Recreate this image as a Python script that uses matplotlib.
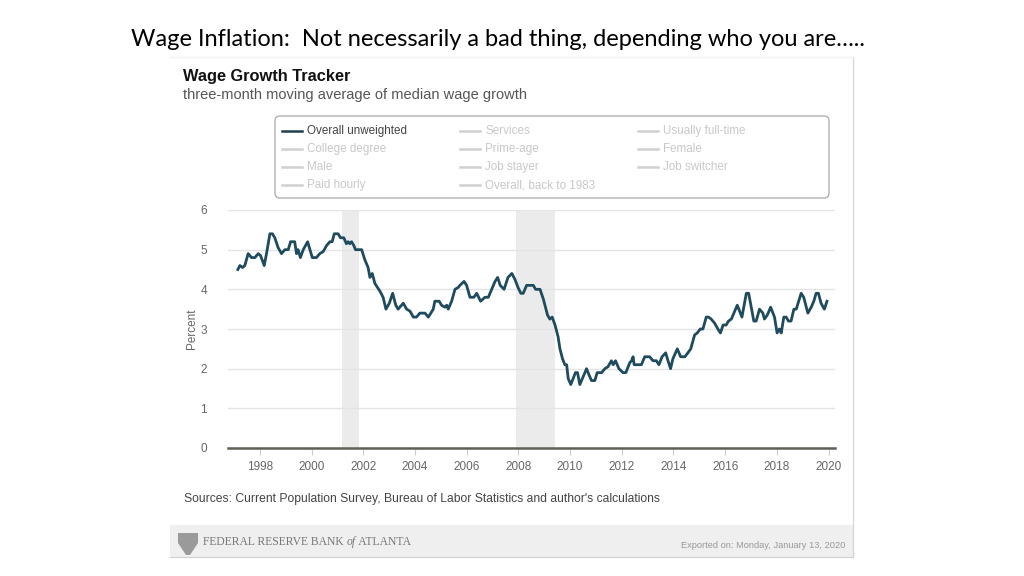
import matplotlib
matplotlib.use('Agg')
import matplotlib.pyplot as plt
from matplotlib.patches import Rectangle, FancyBboxPatch, Polygon

# three-month moving average of median wage growth (decimal year, percent)
dates = [1997.15, 1997.23, 1997.33, 1997.42, 1997.55, 1997.68, 1997.81, 1997.94, 1998.03, 1998.17,
         1998.26, 1998.39, 1998.49, 1998.58, 1998.71, 1998.84, 1998.97, 1999.10, 1999.19, 1999.35,
         1999.42, 1999.48, 1999.57, 1999.68, 1999.85, 2000.03, 2000.19, 2000.32, 2000.45, 2000.58,
         2000.71, 2000.80, 2000.88, 2001.03, 2001.12, 2001.25, 2001.35, 2001.42, 2001.48, 2001.55,
         2001.64, 2001.70, 2001.94, 2002.06, 2002.19, 2002.26, 2002.35, 2002.45, 2002.65, 2002.77,
         2002.88, 2003.01, 2003.14, 2003.26, 2003.35, 2003.55, 2003.68, 2003.81, 2003.94, 2004.06,
         2004.19, 2004.39, 2004.52, 2004.71, 2004.77, 2004.94, 2005.03, 2005.16, 2005.23, 2005.29,
         2005.42, 2005.55, 2005.68, 2005.74, 2005.90, 2006.00, 2006.13, 2006.28, 2006.39, 2006.54,
         2006.71, 2006.84, 2006.97, 2007.10, 2007.20, 2007.30, 2007.45, 2007.60, 2007.75, 2007.87,
         2008.00, 2008.10, 2008.19, 2008.32, 2008.58, 2008.67, 2008.84, 2008.97, 2009.13, 2009.22,
         2009.31, 2009.42, 2009.54, 2009.61, 2009.71, 2009.80, 2009.87, 2009.93, 2010.03, 2010.12,
         2010.21, 2010.29, 2010.38, 2010.51, 2010.64, 2010.73, 2010.83, 2010.96, 2011.05, 2011.22,
         2011.35, 2011.47, 2011.60, 2011.67, 2011.76, 2011.89, 2012.05, 2012.16, 2012.31, 2012.38,
         2012.44, 2012.48, 2012.76, 2012.89, 2013.08, 2013.21, 2013.34, 2013.44, 2013.56, 2013.70,
         2013.79, 2013.89, 2013.98, 2014.15, 2014.28, 2014.44, 2014.56, 2014.67, 2014.82, 2014.92,
         2015.04, 2015.14, 2015.27, 2015.36, 2015.46, 2015.59, 2015.72, 2015.82, 2015.92, 2016.04,
         2016.13, 2016.24, 2016.34, 2016.47, 2016.53, 2016.65, 2016.82, 2016.91, 2017.11, 2017.20,
         2017.33, 2017.46, 2017.52, 2017.63, 2017.76, 2017.91, 2018.01, 2018.10, 2018.17, 2018.27,
         2018.36, 2018.45, 2018.55, 2018.66, 2018.75, 2018.94, 2019.04, 2019.20, 2019.33, 2019.43,
         2019.52, 2019.61, 2019.71, 2019.84, 2019.94]
growth = [4.50, 4.60, 4.55, 4.60, 4.90, 4.80, 4.80, 4.90, 4.85, 4.60,
          4.90, 5.40, 5.40, 5.30, 5.05, 4.90, 5.00, 5.00, 5.20, 5.20,
          4.90, 5.00, 4.80, 5.00, 5.20, 4.80, 4.80, 4.90, 4.95, 5.10,
          5.20, 5.20, 5.40, 5.40, 5.30, 5.30, 5.15, 5.20, 5.15, 5.20,
          5.10, 5.00, 5.00, 4.75, 4.55, 4.30, 4.40, 4.15, 3.95, 3.80,
          3.50, 3.65, 3.90, 3.60, 3.50, 3.65, 3.50, 3.45, 3.30, 3.30,
          3.40, 3.40, 3.30, 3.50, 3.70, 3.70, 3.60, 3.55, 3.60, 3.50,
          3.70, 4.00, 4.05, 4.10, 4.20, 4.10, 3.80, 3.80, 3.90, 3.70,
          3.80, 3.80, 4.00, 4.20, 4.30, 4.10, 4.00, 4.30, 4.40, 4.25,
          4.03, 3.90, 3.90, 4.10, 4.10, 4.00, 4.00, 3.75, 3.35, 3.25,
          3.30, 3.10, 2.80, 2.50, 2.25, 2.10, 2.10, 1.75, 1.60, 1.75,
          1.90, 1.90, 1.60, 1.80, 2.00, 1.85, 1.70, 1.70, 1.90, 1.90,
          2.00, 2.05, 2.20, 2.10, 2.20, 2.00, 1.90, 1.90, 2.15, 2.20,
          2.30, 2.10, 2.10, 2.30, 2.30, 2.20, 2.20, 2.10, 2.30, 2.40,
          2.20, 2.00, 2.25, 2.50, 2.30, 2.30, 2.40, 2.50, 2.85, 2.90,
          3.00, 3.00, 3.30, 3.30, 3.25, 3.15, 3.00, 2.90, 3.10, 3.10,
          3.20, 3.25, 3.40, 3.60, 3.50, 3.30, 3.90, 3.90, 3.20, 3.20,
          3.50, 3.40, 3.25, 3.35, 3.55, 3.30, 2.90, 3.00, 2.90, 3.30,
          3.30, 3.20, 3.20, 3.50, 3.50, 3.90, 3.80, 3.40, 3.55, 3.70,
          3.90, 3.90, 3.65, 3.50, 3.70]

recessions = [(2001.17, 2001.83), (2007.92, 2009.42)]
year_ticks = [1998, 2000, 2002, 2004, 2006, 2008, 2010, 2012, 2014, 2016, 2018, 2020]
pct_ticks = [0, 1, 2, 3, 4, 5, 6]

legend_cols = [["Overall unweighted", "College degree", "Male", "Paid hourly"],
               ["Services", "Prime-age", "Job stayer", "Overall, back to 1983"],
               ["Usually full-time", "Female", "Job switcher"]]

line_col = '#1e4b5e'
tick_col = '#666666'

fig = plt.figure(figsize=(10.24, 5.76), dpi=100)
fig.patch.set_facecolor('white')

# overlay axes in pixel coords for the decorations around the chart
bg = fig.add_axes([0, 0, 1, 1])
bg.set_xlim(0, 1024)
bg.set_ylim(576, 0)
bg.axis('off')

bg.text(498, 40, "Wage Inflation:  Not necessarily a bad thing, depending who you are\u2026..",
        ha='center', va='center', fontsize=17, family='Lato', color='black')

# faint frame of the exported image
bg.plot([853, 853], [57, 557], color='#d8d8d8', lw=1)
bg.plot([170, 853], [57, 57], color='#f2f2f2', lw=1)
bg.add_patch(Rectangle((170, 525), 683, 32, facecolor='#efefef', edgecolor='none'))
bg.plot([170, 853], [557, 557], color='#d0d0d0', lw=0.8)

bg.text(183, 76, "Wage Growth Tracker", fontsize=11.8, fontweight='bold',
        family='Liberation Sans', va='center', color='#111111')
bg.text(183, 95, "three-month moving average of median wage growth", fontsize=10.5,
        family='Liberation Sans', va='center', color='#555555')

# legend box (all series except the first are switched off)
bg.add_patch(FancyBboxPatch((275, 116), 554, 82, boxstyle='round,pad=0,rounding_size=5',
                            facecolor='white', edgecolor='#b0b0b0', lw=1))
col_x = [282, 460, 638]
for ci, labels in enumerate(legend_cols):
    for ri, lab in enumerate(labels):
        y = 131 + ri * 18
        active = (ci == 0 and ri == 0)
        c_line = '#1f3f4c' if active else '#d0d0d0'
        c_txt = '#444444' if active else '#c8c8c8'
        bg.plot([col_x[ci], col_x[ci] + 20], [y, y], color=c_line, lw=1.8)
        bg.text(col_x[ci] + 25, y, lab, fontsize=8.4, family='Liberation Sans',
                va='center', color=c_txt)

bg.text(184, 499, "Sources: Current Population Survey, Bureau of Labor Statistics and author's calculations",
        fontsize=8.7, family='Liberation Sans', va='center', color='#444444')

# logo and footer text
bg.add_patch(Polygon([[178, 533], [198, 533], [198, 543], [190, 555], [186, 555], [178, 543]],
                     closed=True, facecolor='#9a9a9a', edgecolor='none'))
t1 = bg.text(203, 542, "FEDERAL RESERVE BANK ", fontsize=8.4, family='Liberation Serif',
             va='center', color='#777777')
t2 = bg.annotate("of", xy=(1, 0.5), xycoords=t1, va='center', fontsize=8.4,
                 family='Liberation Serif', style='italic', color='#777777')
bg.annotate(" ATLANTA", xy=(1, 0.5), xycoords=t2, va='center', fontsize=8.4,
            family='Liberation Serif', color='#777777')
bg.text(845, 546, "Exported on: Monday, January 13, 2020", fontsize=6.7,
        family='Liberation Sans', ha='right', va='center', color='#999999')

# main chart
ax = fig.add_axes([228 / 1024, 1 - 448 / 576, 607 / 1024, 238 / 576])
ax.set_xlim(1996.77, 2020.25)
ax.set_ylim(0, 6)
for start, end in recessions:
    ax.axvspan(start, end, color='#ebebeb', lw=0, zorder=0)
for v in pct_ticks[1:]:
    ax.axhline(v, color='#e4e4e4', lw=1, zorder=1)
ax.plot(dates, growth, color=line_col, lw=2.0, zorder=3, solid_joinstyle='round')

for s in ['top', 'right', 'left']:
    ax.spines[s].set_visible(False)
ax.spines['bottom'].set_color('#5f5f55')
ax.spines['bottom'].set_linewidth(1.8)
ax.set_xticks(year_ticks)
ax.set_xticklabels([str(y) for y in year_ticks])
ax.set_yticks(pct_ticks)
ax.tick_params(axis='x', length=5, color='#cccccc', labelcolor=tick_col, labelsize=8.5, pad=4)
ax.tick_params(axis='y', length=0, labelcolor=tick_col, labelsize=8.5, pad=15)
for lab in ax.get_xticklabels() + ax.get_yticklabels():
    lab.set_family('Liberation Sans')
ax.set_ylabel('Percent', fontsize=8.5, color=tick_col, family='Liberation Sans', labelpad=2)
ax.patch.set_alpha(0)

fig.savefig('out.png', dpi=100)
